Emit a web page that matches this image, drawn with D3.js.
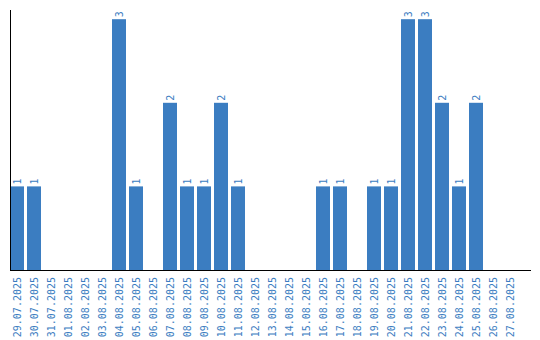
<!DOCTYPE html>
<html><head><meta charset="utf-8">
<script src="https://cdn.jsdelivr.net/npm/d3@7"></script>
<style>body{margin:0;background:#fff}svg{display:block}</style>
</head><body>
<svg id="c" width="540" height="340"></svg>
<script>
const categories = ["29.07.2025","30.07.2025","31.07.2025","01.08.2025","02.08.2025","03.08.2025","04.08.2025","05.08.2025","06.08.2025","07.08.2025","08.08.2025","09.08.2025","10.08.2025","11.08.2025","12.08.2025","13.08.2025","14.08.2025","15.08.2025","16.08.2025","17.08.2025","18.08.2025","19.08.2025","20.08.2025","21.08.2025","22.08.2025","23.08.2025","24.08.2025","25.08.2025","26.08.2025","27.08.2025"];
const values = [1,1,0,0,0,0,3,1,0,2,1,1,2,1,0,0,0,0,1,1,0,1,1,3,3,2,1,2,0,0];
const color = "#3b7dc1";
const svg = d3.select("#c");
const mLeft = 10, mTop = 10, mBottom = 270;
const x = d3.scaleBand().domain(categories).range([mLeft, mLeft + 30*17 - 3]).paddingInner(3/17).paddingOuter(0);
const y = d3.scaleLinear().domain([0, 3.11]).range([mBottom, mTop]);
const font = "DejaVu Sans Mono, monospace";

svg.selectAll("rect.bar").data(values).enter().append("rect").attr("class","bar")
  .attr("x", (d,i)=>x(categories[i])).attr("width", x.bandwidth())
  .attr("y", d=>y(d)).attr("height", d=>mBottom - y(d)).attr("fill", color);

values.forEach((v,i)=>{
  if(v>0){
    svg.append("text").attr("class","val")
      .attr("transform", `translate(${x(categories[i]) + x.bandwidth()/2 + 3.5},${y(v)-2}) rotate(-90)`)
      .attr("font-family", font).attr("font-size", 10).attr("fill", color)
      .attr("text-anchor","start").text(v);
  }
});

const xAxis = d3.axisBottom(x).tickSize(0).tickPadding(0);
const gx = svg.append("g").attr("transform", `translate(0,${mBottom})`).call(xAxis);
gx.select(".domain").remove();
gx.selectAll("text").attr("font-family", font).attr("font-size", 10).attr("fill", color)
  .attr("transform","rotate(-90)").attr("text-anchor","end").attr("x",-7).attr("y",0).attr("dy","0.35em");

svg.append("line").attr("x1",mLeft+0.5).attr("x2",mLeft+0.5).attr("y1",mTop).attr("y2",mBottom).attr("stroke","#000");
svg.append("line").attr("x1",mLeft).attr("x2",531).attr("y1",mBottom+0.5).attr("y2",mBottom+0.5).attr("stroke","#000");
</script>
</body></html>
